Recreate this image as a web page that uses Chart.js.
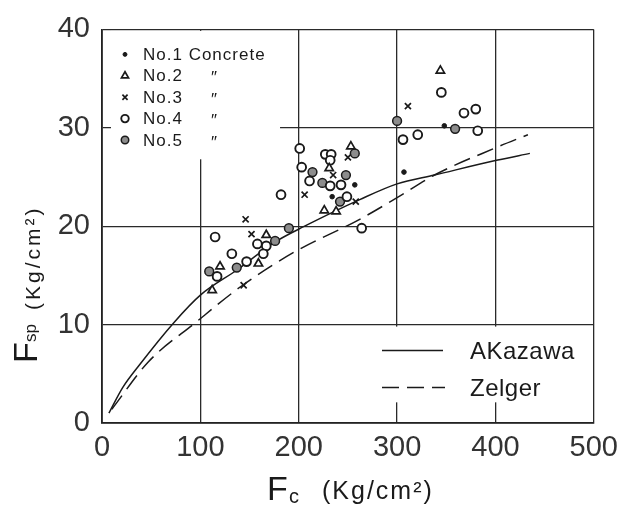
<!DOCTYPE html>
<html><head><meta charset="utf-8">
<script src="https://cdn.jsdelivr.net/npm/chart.js@4/dist/chart.umd.min.js"></script>
<style>html,body{margin:0;padding:0;background:#fff;} canvas{display:block;}</style>
</head><body>
<canvas id="c" width="626" height="510"></canvas>
<script>
// ---- axis ticks ----
const xTickValues = [0, 100, 200, 300, 400, 500];
const yTickValues = [0, 10, 20, 30, 40];

// ---- test series (Fc, Fsp) ----
const no1Fc  = [348, 307, 257, 234];
const no1Fsp = [30.2, 25.5, 24.2, 23.0];
const no2Fc  = [344, 253, 231, 226, 238, 167, 159, 120, 112];
const no2Fsp = [35.8, 28.1, 25.9, 21.6, 21.5, 19.1, 16.2, 15.9, 13.5];
const no3Fc  = [311, 250, 235, 206, 258, 146, 152, 144];
const no3Fsp = [32.2, 27.0, 25.2, 23.2, 22.5, 20.7, 19.2, 14.0];
const no4Fc  = [345, 368, 380, 382, 321, 306, 201, 227, 233, 232, 203, 211, 232, 243, 249, 182, 264, 115, 158, 167, 132, 164, 147, 117];
const no4Fsp = [33.6, 31.5, 31.9, 29.7, 29.3, 28.8, 27.9, 27.3, 27.3, 26.7, 26.0, 24.6, 24.1, 24.2, 23.0, 23.2, 19.8, 18.9, 18.2, 18.0, 17.2, 17.2, 16.4, 14.9];
const no5Fc  = [300, 359, 257, 214, 248, 224, 242, 190, 176, 137, 109];
const no5Fsp = [30.7, 29.9, 27.4, 25.5, 25.2, 24.4, 22.5, 19.8, 18.5, 15.8, 15.4];

// ---- formula curves ----
const akazawaFc  = [7, 21, 38, 73, 100, 138, 176, 206, 262, 300, 338, 401, 435];
const akazawaFsp = [1.0, 3.6, 5.9, 10.2, 13.0, 15.6, 18.4, 20.0, 22.7, 24.3, 25.2, 26.7, 27.4];
const zelgerFc   = [10, 47, 95, 143, 196, 262, 300, 338, 401, 433];
const zelgerFsp  = [1.4, 6.2, 10.2, 14.0, 17.4, 20.7, 22.9, 25.2, 28.0, 29.3];

const seriesNames = ['No.1 Concrete', 'No.2', 'No.3', 'No.4', 'No.5'];
const curveNames = ['AKazawa', 'Zelger'];

const pts = (xs, ys) => xs.map((x, i) => ({x: x, y: ys[i]}));
const INK = '#1a1a1a';

const pointStyles = [
  {pointStyle: 'circle', pointRadius: 2.3, pointBackgroundColor: INK, pointBorderColor: INK, pointBorderWidth: 1},
  {pointStyle: 'triangle', pointRadius: 4.8, pointBackgroundColor: '#fff', pointBorderColor: INK, pointBorderWidth: 1.7},
  {pointStyle: 'crossRot', pointRadius: 4.3, pointBackgroundColor: INK, pointBorderColor: INK, pointBorderWidth: 1.7},
  {pointStyle: 'circle', pointRadius: 4.4, pointBackgroundColor: '#fff', pointBorderColor: INK, pointBorderWidth: 1.9},
  {pointStyle: 'circle', pointRadius: 4.4, pointBackgroundColor: '#8c8c8c', pointBorderColor: INK, pointBorderWidth: 1.5}
];
const seriesData = [pts(no1Fc, no1Fsp), pts(no2Fc, no2Fsp), pts(no3Fc, no3Fsp), pts(no4Fc, no4Fsp), pts(no5Fc, no5Fsp)];

const datasets = seriesData.map((d, i) => Object.assign({
  type: 'scatter', label: seriesNames[i], data: d, showLine: false
}, pointStyles[i]));

datasets.push({type: 'line', label: curveNames[0], data: pts(akazawaFc, akazawaFsp),
  borderColor: INK, borderWidth: 1.5, pointRadius: 0, fill: false, cubicInterpolationMode: 'monotone'});
datasets.push({type: 'line', label: curveNames[1], data: pts(zelgerFc, zelgerFsp),
  borderColor: INK, borderWidth: 1.5, borderDash: [17, 8], pointRadius: 0, fill: false, cubicInterpolationMode: 'monotone'});

// white-out of grid behind the hand-drawn legends
const gridGaps = {
  id: 'gridGaps',
  beforeDatasetsDraw(chart) {
    const {ctx, chartArea: a, scales: {x, y}} = chart;
    ctx.save();
    ctx.fillStyle = '#fff';
    ctx.fillRect(a.left + 9, a.top + 1.5, x.getPixelForValue(181) - a.left - 9, y.getPixelForValue(26.8) - a.top - 1.5);
    const t = y.getPixelForValue(10) + 2, b = y.getPixelForValue(2.1);
    ctx.fillRect(x.getPixelForValue(215), t, x.getPixelForValue(490) - x.getPixelForValue(215), b - t);
    ctx.restore();
  }
};

// hand-style legends and axis titles
const annotate = {
  id: 'annotate',
  afterDraw(chart) {
    const {ctx, chartArea: a} = chart;
    const h = Chart.helpers;
    ctx.save();
    ctx.fillStyle = INK;
    ctx.strokeStyle = INK;
    // top-left legend
    const rowY0 = a.top + 25, rowGap = 21.4;
    ctx.font = '17px "Liberation Sans", sans-serif';
    ctx.textBaseline = 'middle';
    ctx.textAlign = 'left';
    try { ctx.letterSpacing = '1px'; } catch (e) {}
    seriesNames.forEach((name, i) => {
      const yy = rowY0 + i * rowGap;
      const ps = pointStyles[i];
      ctx.save();
      ctx.fillStyle = ps.pointBackgroundColor;
      ctx.strokeStyle = ps.pointBorderColor;
      ctx.lineWidth = ps.pointBorderWidth;
      h.drawPoint(ctx, {pointStyle: ps.pointStyle, radius: ps.pointRadius * 0.85, rotation: 0, borderWidth: ps.pointBorderWidth}, a.left + 23, yy);
      ctx.restore();
      ctx.fillText(name, a.left + 41, yy + 1);
      if (i > 0) ctx.fillText('″', a.left + 109, yy + 3);
    });
    // lower-right legend
    ctx.lineWidth = 1.5;
    const lx0 = a.left + 280, lx1 = a.left + 341;
    const ly = [a.top + 321, a.top + 358];
    ctx.beginPath(); ctx.moveTo(lx0, ly[0]); ctx.lineTo(lx1, ly[0]); ctx.stroke();
    ctx.setLineDash([17, 8]);
    ctx.beginPath(); ctx.moveTo(lx0, ly[1]); ctx.lineTo(lx1 + 2, ly[1]); ctx.stroke();
    ctx.setLineDash([]);
    ctx.font = '24px "Liberation Sans", sans-serif';
    try { ctx.letterSpacing = '0.5px'; } catch (e) {}
    ctx.textBaseline = 'alphabetic';
    ctx.fillText(curveNames[0], a.left + 368, ly[0] + 9);
    ctx.fillText(curveNames[1], a.left + 368, ly[1] + 9);

    // x axis title: F_c (Kg/cm²)
    ctx.font = '34px "Liberation Sans", sans-serif';
    try { ctx.letterSpacing = '0px'; } catch (e) {}
    ctx.fillText('F', 267, 500);
    ctx.font = '20px "Liberation Sans", sans-serif';
    ctx.fillText('c', 289, 503);
    ctx.font = '25px "Liberation Sans", sans-serif';
    try { ctx.letterSpacing = '2px'; } catch (e) {}
    ctx.fillText('(Kg/cm²)', 322, 499);

    // y axis title: F_sp (Kg/cm²), rotated
    ctx.translate(37, 363);
    ctx.rotate(-Math.PI / 2);
    try { ctx.letterSpacing = '0px'; } catch (e) {}
    ctx.font = '34px "Liberation Sans", sans-serif';
    ctx.fillText('F', 0, 0);
    ctx.font = '17px "Liberation Sans", sans-serif';
    ctx.fillText('sp', 21, -1);
    ctx.font = '21px "Liberation Sans", sans-serif';
    try { ctx.letterSpacing = '3px'; } catch (e) {}
    ctx.fillText('(Kg/cm²)', 53, 3);
    ctx.restore();
  }
};

const tickFont = {family: '"Liberation Sans", sans-serif', size: 29};
const gridOpts = {color: '#2a2a2a', lineWidth: 1.3, drawTicks: false};

new Chart(document.getElementById('c'), {
  data: {datasets: datasets},
  options: {
    responsive: false,
    animation: false,
    devicePixelRatio: 1,
    layout: {padding: {top: 18, right: 20, left: 0, bottom: 0}},
    plugins: {legend: {display: false}, tooltip: {enabled: false}},
    scales: {
      x: {
        type: 'linear', min: xTickValues[0], max: xTickValues[xTickValues.length - 1],
        afterBuildTicks: s => { s.ticks = xTickValues.map(v => ({value: v})); },
        afterFit: s => { s.height = 87; },
        ticks: {font: tickFont, color: '#333', padding: 8, maxRotation: 0, autoSkip: false},
        grid: gridOpts,
        border: {color: '#222', width: 1.8}
      },
      y: {
        type: 'linear', min: yTickValues[0], max: yTickValues[yTickValues.length - 1],
        afterBuildTicks: s => { s.ticks = yTickValues.map(v => ({value: v})); },
        afterFit: s => { s.width = 102; },
        ticks: {font: tickFont, color: '#333', padding: 12, autoSkip: false},
        grid: gridOpts,
        border: {color: '#222', width: 1.8}
      }
    }
  },
  plugins: [gridGaps, annotate]
});
</script>
</body></html>
